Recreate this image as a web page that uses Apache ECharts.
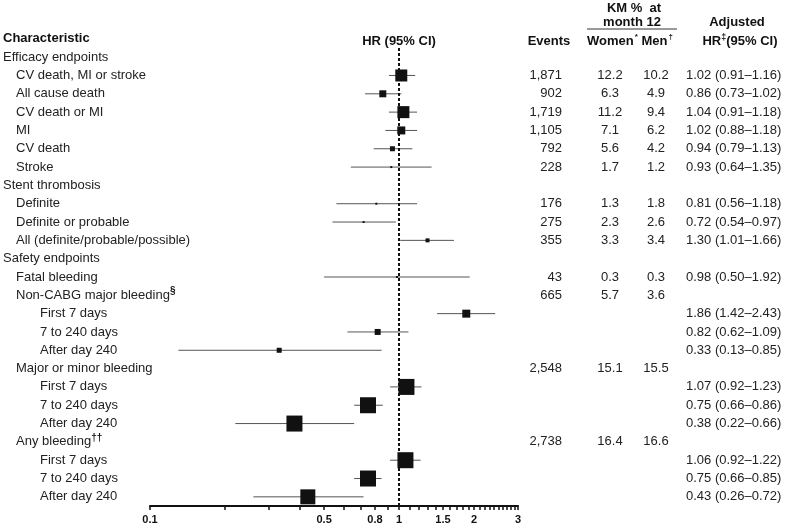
<!DOCTYPE html>
<html>
<head>
<meta charset="utf-8">
<script src="https://cdn.jsdelivr.net/npm/echarts@6/dist/echarts.min.js"></script>
<style>
html,body{margin:0;padding:0;background:#fff;}
#chart{width:787px;height:526px;}
</style>
</head>
<body>
<div id="chart"></div>
<script>
// ---- data ----
const rows = [
  "Efficacy endpoints", "CV death, MI or stroke", "All cause death", "CV death or MI", "MI", "CV death", "Stroke",
  "Stent thrombosis", "Definite", "Definite or probable", "All (definite/probable/possible)",
  "Safety endpoints", "Fatal bleeding", "Non-CABG major bleeding", "First 7 days", "7 to 240 days", "After day 240",
  "Major or minor bleeding", "First 7 days", "7 to 240 days", "After day 240",
  "Any bleeding", "First 7 days", "7 to 240 days", "After day 240"
];
const indentLevel = [0,1,1,1,1,1,1, 0,1,1,1, 0,1,1,2,2,2, 1,2,2,2, 1,2,2,2];
const rowSup = ["","","","","","","", "","","","", "","","§","","","", "","","","", "††","","",""];
const events = ["","1,871","902","1,719","1,105","792","228", "","176","275","355", "","43","665","","","", "2,548","","","", "2,738","","",""];
const women  = ["","12.2","6.3","11.2","7.1","5.6","1.7", "","1.3","2.3","3.3", "","0.3","5.7","","","", "15.1","","","", "16.4","","",""];
const men    = ["","10.2","4.9","9.4","6.2","4.2","1.2", "","1.8","2.6","3.4", "","0.3","3.6","","","", "15.5","","","", "16.6","","",""];
const hr     = [null,1.02,0.86,1.04,1.02,0.94,0.93, null,0.81,0.72,1.30, null,0.98,null,1.86,0.82,0.33, null,1.07,0.75,0.38, null,1.06,0.75,0.43];
const ciLow  = [null,0.91,0.73,0.91,0.88,0.79,0.64, null,0.56,0.54,1.01, null,0.50,null,1.42,0.62,0.13, null,0.92,0.66,0.22, null,0.92,0.66,0.26];
const ciHigh = [null,1.16,1.02,1.18,1.18,1.13,1.35, null,1.18,0.97,1.66, null,1.92,null,2.43,1.09,0.85, null,1.23,0.86,0.66, null,1.22,0.85,0.72];
// relative weight of each estimate (box size)
const weight = [0,12,7,12,8,5,2, 0,2,2,4, 0,2,0,8,6,5, 0,16,16,16, 0,16,16,15];
const tickValues  = [0.1,0.2,0.3,0.4,0.5,0.6,0.7,0.8,0.9,1,1.1,1.2,1.3,1.4,1.5,1.6,1.7,1.8,1.9,2,2.1,2.2,2.3,2.4,2.5,2.6,2.7,2.8,2.9,3];
const labelValues = [0.1,0.5,0.8,1,1.5,2,3];

// ---- build ----
const FONT = '"Liberation Sans", Arial, sans-serif';
const TXT = '#222';
const rowIdx = rows.map((_, i) => String(i));
const hrText = hr.map((v, i) => v == null ? "" :
  v.toFixed(2) + " (" + ciLow[i].toFixed(2) + "\u2013" + ciHigh[i].toFixed(2) + ")");
const ciData = [], boxData = [];
hr.forEach((v, i) => {
  if (v == null) return;
  ciData.push([ciLow[i], ciHigh[i], i]);
  boxData.push([v, i, weight[i]]);
});

function colAxis(values, margin, align) {
  return {
    type: 'category', data: rowIdx, inverse: true, position: 'right', gridIndex: 0,
    axisLine: {show: false}, axisTick: {show: false}, splitLine: {show: false},
    axisLabel: {
      interval: 0, margin: margin, align: align, color: TXT,
      fontFamily: FONT, fontSize: 13,
      formatter: (val, idx) => values[idx]
    }
  };
}

const chart = echarts.init(document.getElementById('chart'));
chart.setOption({
  animation: false,
  backgroundColor: '#fff',
  grid: {left: 149, right: 269, top: 48, bottom: 20, containLabel: false},
  xAxis: {
    type: 'log', logBase: 10, min: 0.1, max: 3,
    axisLine: {show: true, onZero: false, lineStyle: {color: '#111', width: 2}},
    axisTick: {show: true, inside: false, length: 4, customValues: tickValues, lineStyle: {color: '#111', width: 1.5}},
    minorTick: {show: false},
    splitLine: {show: false},
    axisLabel: {
      customValues: labelValues, margin: 8, color: '#111',
      fontFamily: FONT, fontSize: 11, fontWeight: 'bold',
      formatter: v => String(+(+v).toPrecision(3))
    }
  },
  yAxis: [
    {
      type: 'category', data: rowIdx, inverse: true, position: 'left',
      axisLine: {show: false}, axisTick: {show: false}, splitLine: {show: false},
      axisLabel: {
        interval: 0, margin: 147, align: 'left', color: TXT,
        fontFamily: FONT, fontSize: 13,
        formatter: (val, idx) => {
          let s = '{l' + indentLevel[idx] + '|' + rows[idx] + '}';
          if (rowSup[idx]) s += '{sup|' + rowSup[idx] + '}';
          return s;
        },
        rich: {
          l0: {fontSize: 13, color: TXT, fontFamily: FONT, padding: [0,0,0,0]},
          l1: {fontSize: 13, color: TXT, fontFamily: FONT, padding: [0,0,0,13]},
          l2: {fontSize: 13, color: TXT, fontFamily: FONT, padding: [0,0,0,37]},
          sup: {fontSize: 10, color: '#111', fontWeight: 'bold', fontFamily: FONT, padding: [0,0,8,0]}
        }
      }
    },
    colAxis(events, 44, 'right'),
    colAxis(women, 92, 'center'),
    colAxis(men, 138, 'center'),
    colAxis(hrText, 168, 'left')
  ],
  series: [
    {
      type: 'custom', xAxisIndex: 0, yAxisIndex: 0,
      data: ciData,
      encode: {x: [0, 1], y: 2},
      renderItem: (params, api) => {
        const y = api.value(2);
        const p1 = api.coord([api.value(0), y]);
        const p2 = api.coord([api.value(1), y]);
        return {type: 'line', shape: {x1: p1[0], y1: p1[1], x2: p2[0], y2: p2[1]},
                style: {stroke: '#555', lineWidth: 1}};
      },
      silent: true, z: 2
    },
    {
      type: 'scatter', xAxisIndex: 0, yAxisIndex: 0,
      data: boxData,
      symbol: 'rect',
      symbolSize: v => v[2],
      itemStyle: {color: '#111', opacity: 1},
      silent: true, z: 3,
      markLine: {
        silent: true, symbol: 'none', label: {show: false},
        lineStyle: {color: '#111', width: 2, type: [3, 2]},
        data: [{xAxis: 1}]
      }
    }
  ],
  graphic: [
    {type: 'text', style: {text: 'Characteristic', x: 3, y: 38, align: 'left', verticalAlign: 'middle', font: 'bold 13px ' + FONT, fill: '#111'}},
    {type: 'text', style: {text: 'HR (95% CI)', x: 399, y: 41, align: 'center', verticalAlign: 'middle', font: 'bold 13px ' + FONT, fill: '#111'}},
    {type: 'text', style: {text: 'Events', x: 549, y: 41, align: 'center', verticalAlign: 'middle', font: 'bold 13px ' + FONT, fill: '#111'}},
    {type: 'text', style: {text: 'KM %  at', x: 634, y: 8, align: 'center', verticalAlign: 'middle', font: 'bold 13px ' + FONT, fill: '#111'}},
    {type: 'text', style: {text: 'month 12', x: 632, y: 22, align: 'center', verticalAlign: 'middle', font: 'bold 13px ' + FONT, fill: '#111'}},
    {type: 'line', shape: {x1: 587, y1: 29, x2: 677, y2: 29}, style: {stroke: '#777', lineWidth: 1.5}},
    {type: 'text', style: {
      text: '{b|Women}{s|*}{b| Men}{s|\u2020}', x: 630, y: 41, align: 'center', verticalAlign: 'middle',
      rich: {b: {font: 'bold 13px ' + FONT, fill: '#111'}, s: {font: 'bold 8px ' + FONT, fill: '#111', padding: [0,0,8,1]}}
    }},
    {type: 'text', style: {text: 'Adjusted', x: 737, y: 22, align: 'center', verticalAlign: 'middle', font: 'bold 13px ' + FONT, fill: '#111'}},
    {type: 'text', style: {
      text: '{b|HR}{s|\u2021}{b|(95% CI)}', x: 740, y: 41, align: 'center', verticalAlign: 'middle',
      rich: {b: {font: 'bold 13px ' + FONT, fill: '#111'}, s: {font: 'bold 9px ' + FONT, fill: '#111', padding: [0,0,7,0]}}
    }}
  ]
});
</script>
</body>
</html>
